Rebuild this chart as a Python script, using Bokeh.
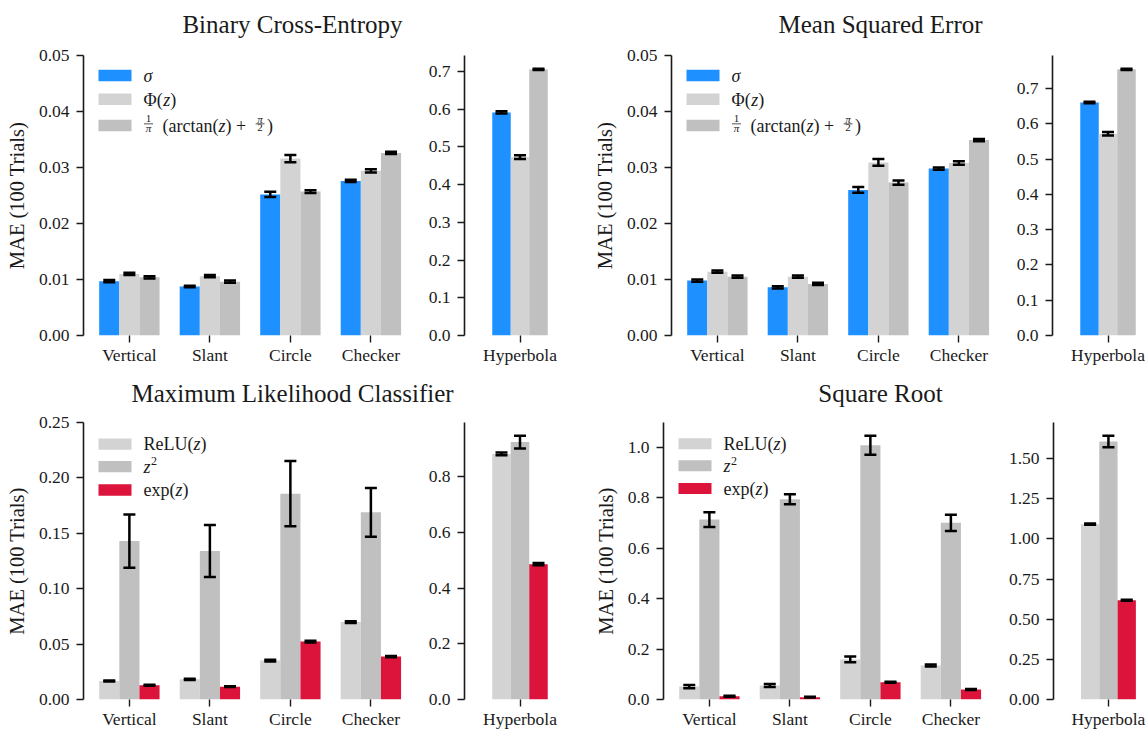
import numpy as np
from bokeh.plotting import figure
from bokeh.models import (Range1d, FixedTicker, NumeralTickFormatter, ColumnDataSource,
                          Label, BoxAnnotation)
from bokeh.layouts import row, column
from bokeh.embed import file_html
from bokeh.resources import INLINE

# ---------------------------------------------------------------- data
categories = ["Vertical", "Slant", "Circle", "Checker"]
side_category = ["Hyperbola"]
y_label = "MAE (100 Trials)"

# Binary cross-entropy: sigma, Phi(z), arctan link
bce_sigma = [0.0097, 0.00875, 0.0252, 0.0276]
bce_sigma_err = [0.0002, 0.00015, 0.00045, 0.0002]
bce_phi = [0.0110, 0.0106, 0.0316, 0.0294]
bce_phi_err = [0.0002, 0.0002, 0.00065, 0.0003]
bce_arctan = [0.0104, 0.0096, 0.0257, 0.0326]
bce_arctan_err = [0.0002, 0.0002, 0.00025, 0.0002]
bce_hyperbola = [0.5915, 0.473, 0.7056]
bce_hyperbola_err = [0.003, 0.005, 0.0015]

# Mean squared error
mse_sigma = [0.0098, 0.0086, 0.0260, 0.0298]
mse_sigma_err = [0.0002, 0.0002, 0.0005, 0.0002]
mse_phi = [0.0114, 0.0105, 0.0309, 0.0308]
mse_phi_err = [0.0002, 0.0002, 0.0006, 0.0003]
mse_arctan = [0.0105, 0.0092, 0.0273, 0.0349]
mse_arctan_err = [0.0002, 0.0002, 0.0004, 0.0002]
mse_hyperbola = [0.661, 0.5723, 0.7548]
mse_hyperbola_err = [0.002, 0.005, 0.0015]

# Maximum likelihood classifier: ReLU(z), z^2, exp(z)
mlc_relu = [0.0167, 0.0182, 0.0351, 0.0699]
mlc_relu_err = [0.0005, 0.0006, 0.0008, 0.0008]
mlc_square = [0.143, 0.134, 0.1858, 0.1689]
mlc_square_err = [0.024, 0.0234, 0.0294, 0.022]
mlc_exp = [0.0128, 0.0116, 0.0523, 0.0387]
mlc_exp_err = [0.0004, 0.0004, 0.0008, 0.0005]
mlc_hyperbola = [0.8816, 0.924, 0.4857]
mlc_hyperbola_err = [0.005, 0.023, 0.004]

# Square root
sqrt_relu = [0.0514, 0.0553, 0.159, 0.1344]
sqrt_relu_err = [0.0065, 0.006, 0.011, 0.004]
sqrt_square = [0.713, 0.794, 1.0077, 0.7004]
sqrt_square_err = [0.029, 0.02, 0.038, 0.032]
sqrt_exp = [0.013, 0.009, 0.068, 0.040]
sqrt_exp_err = [0.002, 0.0015, 0.002, 0.002]
sqrt_hyperbola = [1.0917, 1.607, 0.6176]
sqrt_hyperbola_err = [0.004, 0.036, 0.003]

# tick values
bce_yticks = [0.00, 0.01, 0.02, 0.03, 0.04, 0.05]
mse_yticks = [0.00, 0.01, 0.02, 0.03, 0.04, 0.05]
bce_side_yticks = [0.0, 0.1, 0.2, 0.3, 0.4, 0.5, 0.6, 0.7]
mse_side_yticks = [0.0, 0.1, 0.2, 0.3, 0.4, 0.5, 0.6, 0.7]
mlc_yticks = [0.00, 0.05, 0.10, 0.15, 0.20, 0.25]
mlc_side_yticks = [0.0, 0.2, 0.4, 0.6, 0.8]
sqrt_yticks = [0.0, 0.2, 0.4, 0.6, 0.8, 1.0]
sqrt_side_yticks = [0.00, 0.25, 0.50, 0.75, 1.00, 1.25, 1.50]

# ---------------------------------------------------------------- style
FONT = "Liberation Serif"
TICK_SIZE = "17.5px"
INK = "#1a1a1a"
BLUE = "#1E90FF"
LIGHT = "#D3D3D3"
SILVER = "#C0C0C0"
CRIMSON = "#DC143C"
OFFSETS = [-0.25, 0.0, 0.25]
BAR_W = 0.25
LIFT = 0.32   # baseline correction for annotation text, in em

WIDTH_REG = {' ': .25, '(': .333, ')': .333, '+': .564, '1': .5, '2': .5, 'a': .444,
             'r': .333, 'c': .444, 't': .278, 'n': .5, 'e': .444, 'x': .5, 'p': .5,
             'R': .667, 'L': .611, 'U': .722, 'Φ': .76, 'π': .54}
WIDTH_ITA = {'z': .389, 'σ': .55, 'π': .54}


def text_width(s, size, italic):
    table = WIDTH_ITA if italic else WIDTH_REG
    return sum(table.get(ch, 0.5) for ch in s) * size


class Frame:
    """Pixel <-> data helper for a figure whose borders are fixed."""

    def __init__(self, fw, fh, xr, yr):
        self.fw, self.fh, self.xr, self.yr = fw, fh, xr, yr

    def x(self, px):
        return self.xr[0] + px * (self.xr[1] - self.xr[0]) / self.fw

    def y(self, py):
        return self.yr[1] - py * (self.yr[1] - self.yr[0]) / self.fh


def make_fig(width, height, bl, br, bt, bb, xr, yr, yticks, yfmt, xlabels, ylabel=None):
    p = figure(width=width, height=height, x_range=Range1d(*xr), y_range=Range1d(*yr),
               min_border_left=bl, min_border_right=br, min_border_top=bt, min_border_bottom=bb,
               output_backend="svg", toolbar_location=None, tools="")
    p.outline_line_color = None
    p.grid.visible = False
    p.background_fill_color = "white"
    p.border_fill_color = "white"

    yax = p.yaxis[0]
    yax.ticker = FixedTicker(ticks=yticks)
    yax.formatter = NumeralTickFormatter(format=yfmt)
    yax.axis_line_color = INK
    yax.axis_line_width = 1.6
    yax.major_tick_line_color = INK
    yax.major_tick_line_width = 1.4
    yax.major_tick_out = 7
    yax.major_tick_in = 0
    yax.minor_tick_line_color = None
    yax.major_label_standoff = 7
    yax.major_label_text_font = FONT
    yax.major_label_text_font_size = TICK_SIZE
    yax.major_label_text_color = INK
    if ylabel:
        yax.axis_label = ylabel
        yax.axis_label_text_font = FONT
        yax.axis_label_text_font_size = "20.5px"
        yax.axis_label_text_font_style = "normal"
        yax.axis_label_text_color = INK
        yax.axis_label_standoff = 8

    xax = p.xaxis[0]
    xax.ticker = FixedTicker(ticks=list(range(len(xlabels))))
    xax.major_label_overrides = {i: lab for i, lab in enumerate(xlabels)}
    xax.axis_line_color = None
    xax.major_tick_line_color = INK
    xax.major_tick_line_width = 1.4
    xax.major_tick_out = 7
    xax.major_tick_in = 0
    xax.minor_tick_line_color = None
    xax.major_label_standoff = 2
    xax.major_label_text_font = FONT
    xax.major_label_text_font_size = TICK_SIZE
    xax.major_label_text_color = INK
    return p, Frame(width - bl - br, height - bt - bb, xr, yr)


def add_bars(p, n, series, errors, colors):
    base = np.arange(n)
    for off, vals, errs, col in zip(OFFSETS, series, errors, colors):
        vals = np.asarray(vals, dtype=float)
        errs = np.asarray(errs, dtype=float)
        src = ColumnDataSource(dict(x=base + off, top=vals, upper=vals + errs, lower=vals - errs))
        p.vbar(x="x", top="top", bottom=0, width=BAR_W, source=src,
               fill_color=col, line_color=None)
        # error bar: stem plus a fixed-width cap at each end
        p.segment(x0="x", x1="x", y0="lower", y1="upper", source=src,
                  line_color="black", line_width=2.5)
        p.scatter(x="x", y="upper", source=src, marker="dash", size=12,
                  line_color="black", line_width=2.5)
        p.scatter(x="x", y="lower", source=src, marker="dash", size=12,
                  line_color="black", line_width=2.5)


def label(p, x, y, text, size, style="normal", align="left"):
    p.add_layout(Label(x=x, y=y, text=text, text_font=FONT, text_font_size=f"{size}px",
                       text_font_style=style, text_color=INK, text_align=align,
                       text_baseline="alphabetic"))


def add_legend(p, fr, rows, entries, colors):
    for off, parts, col in zip(rows, entries, colors):
        p.add_layout(BoxAnnotation(left=fr.x(15), right=fr.x(48), top=fr.y(off - 5.75),
                                   bottom=fr.y(off + 5.75), fill_color=col, fill_alpha=1.0,
                                   line_color=None))
        cx = 60.0
        for part in parts:
            kind = part[0]
            if kind == "t":
                _, s, style = part
                label(p, fr.x(cx), fr.y(off + 6 - LIFT * 18), s, 18, style)
                cx += text_width(s, 18, style == "italic")
            elif kind == "sup":
                label(p, fr.x(cx + 0.5), fr.y(off - 1.5 - LIFT * 12), part[1], 12)
                cx += text_width(part[1], 12, False) + 1
            elif kind == "frac":
                _, num, num_style, den, den_style = part
                c = cx + 5
                label(p, fr.x(c), fr.y(off - 3.0 - LIFT * 11), num, 11, num_style, "center")
                label(p, fr.x(c), fr.y(off + 6.0 - LIFT * 11), den, 11, den_style, "center")
                p.add_layout(BoxAnnotation(left=fr.x(c - 4.5), right=fr.x(c + 4.5),
                                           top=fr.y(off - 2.0), bottom=fr.y(off - 1.2),
                                           fill_color=INK, fill_alpha=1.0, line_color=None))
                cx += 10
            elif kind == "gap":
                cx += part[1]


legend_link = [
    [("t", "σ", "italic")],
    [("t", "Φ(", "normal"), ("t", "z", "italic"), ("t", ")", "normal")],
    [("frac", "1", "normal", "π", "italic"), ("gap", 9), ("t", "(arctan(", "normal"),
     ("t", "z", "italic"), ("t", ") +", "normal"), ("gap", 9),
     ("frac", "π", "italic", "2", "normal"), ("gap", 2), ("t", ")", "normal")],
]
legend_act = [
    [("t", "ReLU(", "normal"), ("t", "z", "italic"), ("t", ")", "normal")],
    [("t", "z", "italic"), ("sup", "2")],
    [("t", "exp(", "normal"), ("t", "z", "italic"), ("t", ")", "normal")],
]

link_colors = [BLUE, LIGHT, SILVER]
act_colors = [LIGHT, SILVER, CRIMSON]

PX_MAIN = 80.5   # pixels per category on the main axes
PX_SIDE = 74.0   # pixels per category on the side axes
MAIN_FRAME_W = 334


def side_top(vals, errs):
    return 1.05 * max(v + e for v, e in zip(vals, errs))


def main_panel(width, br, bt, fh, bb, ytop, yticks, yfmt, series, errs, colors, leg, leg_rows):
    xr = (-0.57, -0.57 + MAIN_FRAME_W / PX_MAIN)
    height = bt + fh + bb
    p, fr = make_fig(width, height, 83, br, bt, bb, xr, (0, ytop), yticks, yfmt,
                     categories, y_label)
    add_bars(p, len(categories), series, errs, colors)
    add_legend(p, fr, leg_rows, leg, colors)
    return p


def side_panel(width, bl, br, bt, fh, bb, vals, errs, yticks, yfmt, colors):
    fw = width - bl - br
    xr = (-0.75, -0.75 + fw / PX_SIDE)
    p, fr = make_fig(width, bt + fh + bb, bl, br, bt, bb, xr, (0, side_top(vals, errs)),
                     yticks, yfmt, side_category)
    add_bars(p, 1, [[v] for v in vals], [[e] for e in errs], colors)
    return p


def title_fig(height, titles):
    p = figure(width=1148, height=height, x_range=Range1d(0, 1148), y_range=Range1d(0, height),
               x_axis_location=None, y_axis_location=None, min_border=0,
               output_backend="svg", toolbar_location=None, tools="")
    p.outline_line_color = None
    p.grid.visible = False
    for x, baseline, t in titles:
        p.add_layout(Label(x=x, y=height - (baseline - LIFT * 25), text=t, text_align="center",
                           text_baseline="alphabetic", text_font=FONT,
                           text_font_size="25px", text_color=INK))
    return p


rows_top = [20, 43.8, 70]
rows_bottom = [21.9, 44.6, 68.2]

# ---------------------------------------------------------------- row 1
t1 = title_fig(42, [(292, 32, "Binary Cross-Entropy"), (880, 32, "Mean Squared Error")])
pa = main_panel(417, 0, 13, 280, 32, 0.05, bce_yticks, "0.00",
                [bce_sigma, bce_phi, bce_arctan], [bce_sigma_err, bce_phi_err, bce_arctan_err],
                link_colors, legend_link, rows_top)
pb = side_panel(171, 47, 13, 13, 280, 32, bce_hyperbola, bce_hyperbola_err,
                bce_side_yticks, "0.0", link_colors)
pc = main_panel(417, 0, 13, 280, 32, 0.05, mse_yticks, "0.00",
                [mse_sigma, mse_phi, mse_arctan], [mse_sigma_err, mse_phi_err, mse_arctan_err],
                link_colors, legend_link, rows_top)
pd = side_panel(143, 47, 0, 13, 280, 32, mse_hyperbola, mse_hyperbola_err,
                mse_side_yticks, "0.0", link_colors)

# ---------------------------------------------------------------- row 2
t2 = title_fig(40, [(292, 34, "Maximum Likelihood Classifier"), (880, 34, "Square Root")])
pe = main_panel(417, 0, 15, 280, 29, 0.25, mlc_yticks, "0.00",
                [mlc_relu, mlc_square, mlc_exp], [mlc_relu_err, mlc_square_err, mlc_exp_err],
                act_colors, legend_act, rows_bottom)
pf = side_panel(163, 47, 5, 15, 280, 29, mlc_hyperbola, mlc_hyperbola_err,
                mlc_side_yticks, "0.0", act_colors)
sqrt_top = 1.05 * max(v + e for v, e in zip(sqrt_square, sqrt_square_err))
pg = main_panel(425, 8, 9, 286, 29, sqrt_top, sqrt_yticks, "0.0",
                [sqrt_relu, sqrt_square, sqrt_exp], [sqrt_relu_err, sqrt_square_err, sqrt_exp_err],
                act_colors, legend_act, rows_bottom)
ph = side_panel(143, 47, 0, 9, 286, 29, sqrt_hyperbola, sqrt_hyperbola_err,
                sqrt_side_yticks, "0.00", act_colors)

layout = column(t1, row(pa, pb, pc, pd), t2, row(pe, pf, pg, ph))

open("out.html", "w").write(file_html(layout, INLINE))
